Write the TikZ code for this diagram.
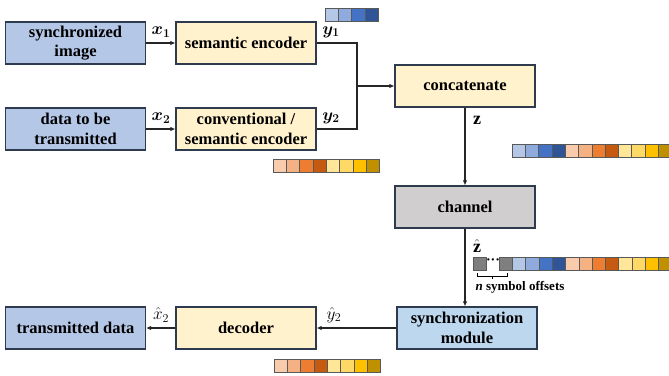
\documentclass[tikz,border=0pt]{standalone}
\usepackage{fontspec}
\usepackage{amsmath,bm}
\setmainfont{Liberation Serif}
\usetikzlibrary{arrows.meta}
\definecolor{bordc}{HTML}{2E3B4E}
\definecolor{bluef}{HTML}{B4C7E7}
\definecolor{yellf}{HTML}{FFF2CC}
\definecolor{grayf}{HTML}{D0CECE}
\definecolor{syncf}{HTML}{BDD7EE}
\definecolor{cellb}{HTML}{595959}
\definecolor{cbA}{HTML}{B4C7E7}
\definecolor{cbB}{HTML}{8FAADC}
\definecolor{cbC}{HTML}{4472C4}
\definecolor{cbD}{HTML}{2F5597}
\definecolor{coA}{HTML}{F8CBAD}
\definecolor{coB}{HTML}{F4B183}
\definecolor{coC}{HTML}{ED7D31}
\definecolor{coD}{HTML}{C55A11}
\definecolor{cyA}{HTML}{FFE699}
\definecolor{cyB}{HTML}{FFD966}
\definecolor{cyC}{HTML}{FFC000}
\definecolor{cyD}{HTML}{BF9000}
\definecolor{cgA}{HTML}{7F7F7F}
\newcommand\cellrow[3]{%
  \foreach \c [count=\i from 0] in {#3}
    \filldraw[fill=\c, draw=cellb, line width=0.6pt] ({#1+\i*13.3},#2) rectangle ++(13.3,13);}
\begin{document}
\begin{tikzpicture}[x=1pt,y=-1pt,
  box/.style={draw=bordc, line width=1.2pt, minimum width=140pt, minimum height=42pt,
    inner sep=0pt, align=center, font=\fontsize{16.5}{19.5}\selectfont\bfseries},
  bluebox/.style={box, fill=bluef},
  yellbox/.style={box, fill=yellf},
  conn/.style={line width=1.1pt, draw=black!85},
  arr/.style={conn, -{Latex[length=5pt,width=4.5pt]}},
  lab/.style={font=\fontsize{18}{20}\selectfont, inner sep=0pt}]
\useasboundingbox (0,0) rectangle (669,375);
% nodes
\node[bluebox] (simg) at (75.5,43) {synchronized\\image};
\node[yellbox] (senc) at (246,43) {semantic encoder};
\node[bluebox] (data) at (75.5,129) {data to be\\transmitted};
\node[yellbox] (cenc) at (246,129) {conventional /\\semantic encoder};
\node[yellbox] (concat) at (465,86) {concatenate};
\node[box, fill=grayf] (chan) at (465,207) {channel};
\node[box, fill=syncf] (sync) at (467,328) {synchronization\\module};
\node[bluebox] (tdata) at (75.5,328) {transmitted data};
\node[yellbox] (dec) at (246,328) {decoder};
\coordinate (j) at (357,86);
% connectors
\draw[arr] (simg) -- (senc);
\draw[arr] (data) -- (cenc);
\draw[conn] (senc.east) -| (j);
\draw[conn] (cenc.east) -| (j);
\draw[arr] (j) -- (concat.west);
\draw[arr] (concat.south) -- (chan.north);
\draw[arr] (chan.south) -- (chan.south |- sync.north);
\draw[arr] (sync.west) -- (dec.east);
\draw[arr] (dec.west) -- (tdata.east);
% labels
\node[lab] (lx1) at (161,32) {$\bm{x_1}$};
\node[lab] (lx2) at (161,118) {$\bm{x_2}$};
\node[lab] (ly1) at (331,32) {$\bm{y_1}$};
\node[lab] (ly2) at (331,118) {$\bm{y_2}$};
\node[lab] (lz) at (477,120) {$\mathbf{z}$};
\node[lab] (lzh) at (477,246) {$\hat{\mathbf{z}}$};
\node[lab] (lyh) at (334,315) {$\hat{y}_2$};
\node[lab] (lxh) at (161,315) {$\hat{x}_2$};
% bars
\cellrow{325}{8.5}{cbA,cbB,cbC,cbD}
\cellrow{273}{159}{coA,coB,coC,coD,cyA,cyB,cyC,cyD}
\cellrow{512}{144}{cbA,cbB,cbC,cbD,coA,coB,coC,coD,cyA,cyB,cyC,cyD}
\cellrow{473}{257}{cgA}
\node[inner sep=0pt, font=\fontsize{14}{14}\selectfont] (dots) at (493,261.5) {\textbf{\textperiodcentered\textperiodcentered\textperiodcentered}};
\cellrow{499}{257}{cgA}
\cellrow{512.3}{257}{cbA,cbB,cbC,cbD,coA,coB,coC,coD,cyA,cyB,cyC,cyD}
\cellrow{274}{359}{coA,coB,coC,coD,cyA,cyB,cyC,cyD}
% bracket
\draw[line width=0.8pt] (477,273) -- (477,276) -- (507,276) -- (507,273);
\draw[line width=0.8pt] (492,276) -- (492,278.5);
\node[inner sep=0pt, font=\fontsize{13}{15}\selectfont\bfseries] (offs) at (520,287) {\textit{n} symbol offsets};
\end{tikzpicture}
\end{document}
